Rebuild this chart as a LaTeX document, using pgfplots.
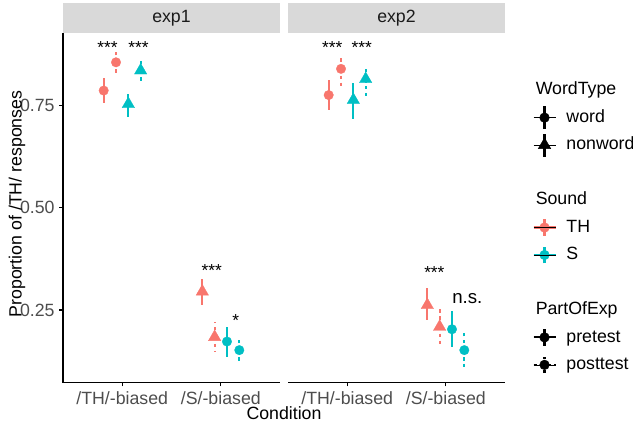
\documentclass[border=0pt]{standalone}
\usepackage{fontspec}
\setmainfont{Liberation Sans}
\usepackage{pgfplots}
\pgfplotsset{compat=1.18}

\definecolor{thcol}{HTML}{F8766D}
\definecolor{scol}{HTML}{00BFC4}
\definecolor{ticktxt}{HTML}{4D4D4D}
\definecolor{stripbg}{HTML}{D9D9D9}
\definecolor{striptxt}{HTML}{1A1A1A}
\newcommand\fs{\fontsize{13.3}{15}\selectfont}

\tikzset{signif/.style={anchor=base, font=\fontsize{13}{15}\selectfont}}

\pgfplotsset{
  panel/.style={
    scale only axis, width=162.75pt, height=262.3pt,
    anchor=south west,
    xmin=0.4, xmax=2.6, ymin=0.0724, ymax=0.9266,
    xtick={1,2}, xticklabels={/TH/-biased,/S/-biased},
    ytick={0.25,0.5,0.75}, yticklabels={0.25,0.50,0.75},
    axis x line*=bottom, axis y line*=left,
    axis line style={-, line width=0.8pt, black},
    tick align=outside, major tick length=2.8pt,
    tick style={line width=0.8pt, black},
    ticklabel style={font=\fs, text=ticktxt},
    clip=false,
    every axis plot/.append style={only marks,
      error bars/y dir=both, error bars/y explicit, error bars/error mark=none},
  },
  th/.style={color=thcol}, ss/.style={color=scol},
  circ/.style={mark=*, mark size=3.6pt},
  tri/.style={mark=triangle*, mark size=5.4pt},
  pre/.style={forget plot, line width=1.6pt, mark options={solid, line width=0.2pt},
    error bars/error bar style={line width=1.6pt, solid}},
  post/.style={forget plot, line width=1.6pt, mark options={solid, line width=0.2pt},
    error bars/error bar style={line width=1.6pt, dash pattern=on 2.6pt off 2.6pt}},
}

\begin{document}
\begin{tikzpicture}
\path[use as bounding box] (0,0) rectangle (474.75pt,317.25pt);

% exp1
\begin{axis}[panel, name=p1, at={(47.25pt,30.2pt)}]
\addplot[th, circ, pre]  coordinates {(0.8125,0.786) += (0,0.031) -= (0,0.031)};
\addplot[th, circ, post] coordinates {(0.9375,0.855) += (0,0.024) -= (0,0.030)};
\addplot[ss, tri, pre]   coordinates {(1.0625,0.753) += (0,0.025) -= (0,0.031)};
\addplot[ss, tri, post]  coordinates {(1.1875,0.835) += (0,0.024) -= (0,0.031)};
\addplot[th, tri, pre]   coordinates {(1.8125,0.295) += (0,0.031) -= (0,0.033)};
\addplot[th, tri, post]  coordinates {(1.9375,0.184) += (0,0.037) -= (0,0.036)};
\addplot[ss, circ, pre]  coordinates {(2.0625,0.173) += (0,0.035) -= (0,0.037)};
\addplot[ss, circ, post] coordinates {(2.1875,0.152) += (0,0.025) -= (0,0.028)};
\node[signif] at (axis cs:0.85,0.876) {***};
\node[signif] at (axis cs:1.165,0.876) {***};
\node[signif] at (axis cs:1.908,0.331) {***};
\node[signif] at (axis cs:2.151,0.210) {*};
\end{axis}

% exp2
\begin{axis}[panel, name=p2, at={(216pt,30.2pt)}, hide y axis,
  legend style={at={(axis description cs:1.129,0.862)}, anchor=north west,
    draw=none, fill=none, inner sep=0pt, row sep=7.6pt, column sep=8pt,
    font=\fs, nodes={inner sep=0pt, text height=10pt, text depth=3pt}},
  legend cell align=left]
\addplot[th, circ, pre]  coordinates {(0.8125,0.775) += (0,0.037) -= (0,0.036)};
\addplot[th, circ, post] coordinates {(0.9375,0.839) += (0,0.028) -= (0,0.042)};
\addplot[ss, tri, pre]   coordinates {(1.0625,0.763) += (0,0.041) -= (0,0.047)};
\addplot[ss, tri, post]  coordinates {(1.1875,0.814) += (0,0.030) -= (0,0.041)};
\addplot[th, tri, pre]   coordinates {(1.8125,0.262) += (0,0.041) -= (0,0.036)};
\addplot[th, tri, post]  coordinates {(1.9375,0.209) += (0,0.049) -= (0,0.045)};
\addplot[ss, circ, pre]  coordinates {(2.0625,0.203) += (0,0.045) -= (0,0.044)};
\addplot[ss, circ, post] coordinates {(2.1875,0.152) += (0,0.045) -= (0,0.041)};
\node[signif] at (axis cs:0.849,0.876) {***};
\node[signif] at (axis cs:1.147,0.876) {***};
\node[signif] at (axis cs:1.884,0.328) {***};
\node[anchor=base, font=\fontsize{14}{16}\selectfont] at (axis cs:2.218,0.266) {n.s.};

\addlegendimage{empty legend}\addlegendentry{\hspace*{-23pt}WordType}
\addlegendimage{legend image code/.code={
  \draw[overlay, line width=1.6pt] (8.25pt,-8.6pt) -- (8.25pt,8.6pt);
  \fill[overlay] (8.25pt,0pt) circle (3.6pt);
  \path (0pt,0pt) -- (16.5pt,0pt);}}
\addlegendentry{word}
\addlegendimage{legend image code/.code={
  \draw[overlay, line width=1.6pt] (8.25pt,-8.6pt) -- (8.25pt,8.6pt);
  \fill[overlay] (8.25pt,5.4pt) -- (12.93pt,-2.7pt) -- (3.57pt,-2.7pt) -- cycle;
  \path (0pt,0pt) -- (16.5pt,0pt);}}
\addlegendentry{nonword}
\addlegendimage{empty legend}\addlegendentry{}
\addlegendimage{empty legend}\addlegendentry{\hspace*{-23pt}Sound}
\addlegendimage{legend image code/.code={
  \draw[overlay, thcol, line width=1.6pt] (0pt,0pt) -- (16.5pt,0pt) (8.25pt,-6.2pt) -- (8.25pt,6.2pt);
  \fill[overlay, thcol] (8.25pt,0pt) circle (3.6pt);
  \path (0pt,0pt) -- (16.5pt,0pt);}}
\addlegendentry{TH}
\addlegendimage{legend image code/.code={
  \draw[overlay, scol, line width=1.6pt] (0pt,0pt) -- (16.5pt,0pt) (8.25pt,-6.2pt) -- (8.25pt,6.2pt);
  \fill[overlay, scol] (8.25pt,0pt) circle (3.6pt);
  \path (0pt,0pt) -- (16.5pt,0pt);}}
\addlegendentry{S}
\addlegendimage{empty legend}\addlegendentry{}
\addlegendimage{empty legend}\addlegendentry{\hspace*{-23pt}PartOfExp}
\addlegendimage{legend image code/.code={
  \draw[overlay, line width=1.6pt] (0pt,0pt) -- (16.5pt,0pt) (8.25pt,-6.2pt) -- (8.25pt,6.2pt);
  \fill[overlay] (8.25pt,0pt) circle (3.6pt);
  \path (0pt,0pt) -- (16.5pt,0pt);}}
\addlegendentry{pretest}
\addlegendimage{legend image code/.code={
  \draw[overlay, line width=1.6pt, dash pattern=on 2.6pt off 2.6pt] (0pt,0pt) -- (16.5pt,0pt) (8.25pt,-6.2pt) -- (8.25pt,6.2pt);
  \fill[overlay] (8.25pt,0pt) circle (3.6pt);
  \path (0pt,0pt) -- (16.5pt,0pt);}}
\addlegendentry{posttest}
\end{axis}

% facet strips
\fill[stripbg] (p1.north west) rectangle ([yshift=22.5pt]p1.north east);
\node[font=\fs, text=striptxt] at ([yshift=11.25pt]p1.north) {exp1};
\fill[stripbg] (p2.north west) rectangle ([yshift=22.5pt]p2.north east);
\node[font=\fs, text=striptxt] at ([yshift=11.25pt]p2.north) {exp2};

% axis titles
\node[font=\fs] at (213pt,7.7pt) {Condition};
\node[font=\fs, rotate=90] at (12.75pt,164.25pt) {Proportion of /TH/ responses};
\end{tikzpicture}
\end{document}
